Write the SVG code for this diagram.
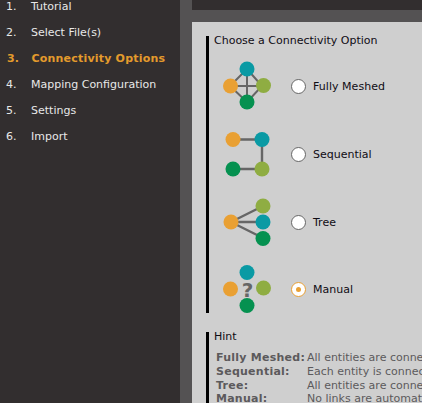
<svg xmlns="http://www.w3.org/2000/svg" width="422" height="403" viewBox="0 0 422 403">
<style>
text{font-family:"DejaVu Sans",sans-serif;font-size:11px;fill:#100c14}
.n{fill:#e8e8e8}
.a{fill:#e49b2c;font-weight:bold;letter-spacing:.2px}
.h{fill:#5c5a5c}
.b{fill:#5c5a5c;font-weight:bold;letter-spacing:.25px}
.l{stroke:#666;stroke-width:2;fill:none}
.or{fill:#e9a033}.te{fill:#0a9aa4}.li{fill:#8fad42}.gr{fill:#059150}
.r{fill:#fff;stroke:#666;stroke-width:1}
</style>
<rect width="422" height="403" fill="#322e2f"/>
<rect x="180" width="242" height="403" fill="#545253"/>
<rect x="192" width="230" height="10" fill="#322e2f"/>
<rect x="192" y="22" width="230" height="381" fill="#cfcfcf"/>
<rect x="206" y="36" width="3" height="277" fill="#000"/>
<rect x="206" y="332" width="3" height="71" fill="#000"/>
<g id="sidebar">
<text class="n" x="6" y="10">1.</text><text class="n" x="31" y="10">Tutorial</text>
<text class="n" x="6" y="36">2.</text><text class="n" x="31" y="36">Select File(s)</text>
<text class="a" x="7" y="62">3.</text><text class="a" x="31.500" y="62">Connectivity Options</text>
<text class="n" x="6" y="88">4.</text><text class="n" x="31" y="88">Mapping Configuration</text>
<text class="n" x="6" y="114">5.</text><text class="n" x="31" y="114">Settings</text>
<text class="n" x="6" y="140">6.</text><text class="n" x="31" y="140">Import</text>
</g>
<text x="214" y="44">Choose a Connectivity Option</text>
<g id="connectors">
<path class="l" d="M247 69L262 86L247 102L230 86ZM247 69V102M230 86H262"/>
<path class="l" style="stroke-width:2.400" d="M233 139.500H262V169H233"/>
<path class="l" style="stroke-width:2.400" d="M231 222L263 206M231 222H263M231 222L263 238"/>
</g>
<g id="fully-meshed">
<circle class="te" cx="247" cy="69" r="7.500"/><circle class="or" cx="230.500" cy="86" r="7.500"/><circle class="li" cx="263.500" cy="85.500" r="7.500"/><circle class="gr" cx="247" cy="102" r="7.500"/>
<circle class="r" cx="298.500" cy="86.500" r="7"/><text x="313" y="90" textLength="72">Fully Meshed</text>
</g>
<g id="sequential">
<circle class="or" cx="233" cy="139.500" r="7.500"/><circle class="te" cx="262" cy="139.500" r="7.500"/><circle class="gr" cx="233" cy="169" r="7.500"/><circle class="li" cx="262" cy="169" r="7.500"/>
<circle class="r" cx="298.500" cy="154.500" r="7"/><text x="313" y="158">Sequential</text>
</g>
<g id="tree">
<circle class="or" cx="231" cy="222" r="7.500"/><circle class="li" cx="263" cy="206" r="7.500"/><circle class="te" cx="263" cy="222" r="7.500"/><circle class="gr" cx="263" cy="238.500" r="7.500"/>
<circle class="r" cx="298.500" cy="222.500" r="7"/><text x="313" y="226">Tree</text>
</g>
<g id="manual">
<circle class="te" cx="247" cy="272.500" r="7.500"/><circle class="or" cx="230.500" cy="289" r="7.500"/><circle class="li" cx="263.500" cy="288" r="7.500"/><circle class="gr" cx="247" cy="305.500" r="7.500"/>
<text x="247.500" y="297" text-anchor="middle" style="font-size:20px;font-weight:bold;fill:#666">?</text>
<circle cx="298.500" cy="289.500" r="7" fill="#fff" stroke="#e9a033"/><circle class="or" cx="298.500" cy="289.500" r="2.500"/><text x="313" y="293">Manual</text>
</g>
<g id="hint">
<text x="214" y="340">Hint</text>
<text class="b" x="216" y="361">Fully Meshed:</text><text class="h" x="307" y="361">All entities are conne</text>
<text class="b" x="216" y="375">Sequential:</text><text class="h" x="307" y="375">Each entity is connec</text>
<text class="b" x="216" y="389">Tree:</text><text class="h" x="307" y="389">All entities are conne</text>
<text class="b" x="216" y="402">Manual:</text><text class="h" x="307" y="402">No links are automat</text>
</g>
</svg>
